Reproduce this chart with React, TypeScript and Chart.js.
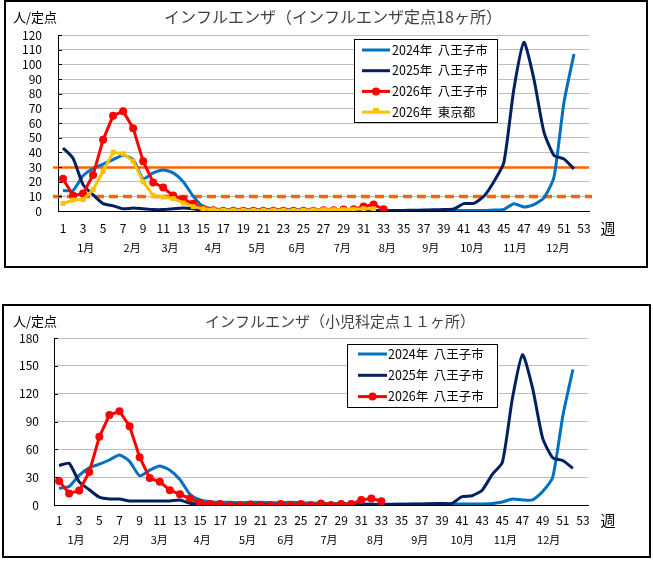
import { useEffect, useRef } from "react";
import { Chart, registerables } from "chart.js";

Chart.register(...registerables);

const FONT = '"Noto Sans CJK JP", "Noto Sans", sans-serif';

// 週番号（1〜53）と月ラベル
const weeks = Array.from({ length: 53 }, (_, i) => String(i + 1));
const months = ["1月", "2月", "3月", "4月", "5月", "6月", "7月", "8月", "9月", "10月", "11月", "12月"];
const monthWeeksTeiten = [3.27, 7.9, 11.68, 16.0, 20.36, 24.35, 28.87, 33.36, 37.7, 41.8, 46.1, 50.4];
const monthWeeksShoni = [2.68, 7.2, 10.95, 15.2, 19.7, 23.5, 27.8, 32.4, 36.8, 41.0, 45.3, 49.6];

// インフルエンザ定点18ヶ所（人/定点）
const teiten2024 = [
  14, 14, 24, 29, 32, 35, 38, 35, 22, 26, 28, 26, 20, 10, 3, 1.5, 1, 1, 1, 1,
  1, 1, 1, 1, 1, 1, 1, 0.8, 0.6, 0.5, 0.5, 0.3, 0.3, 0.2, 0.2, 0.2, 0.2, 0.3, 0.3, 0.4,
  0.4, 0.3, 0.3, 0.6, 1, 5, 2.7, 4.3, 9, 23, 74, 107,
];
const teiten2025 = [
  43, 36, 18, 11, 5, 3.5, 1.5, 2, 1.5, 1, 1, 1.5, 2, 1.5, 0.5, 0.3, 0.2, 0.2, 0.2, 0.2,
  0.2, 0.2, 0.2, 0.2, 0.2, 0.2, 0.2, 0.2, 0.2, 0.2, 0.2, 0.2, 0.2, 0.3, 0.4, 0.5, 0.6, 0.8, 1, 1.4,
  5, 5.2, 10, 20, 33, 83, 115, 90, 54, 38, 35.5, 28.7,
];
const teiten2026 = [
  22, 10.5, 12, 24.5, 48.5, 65, 68, 56.5, 34, 19.5, 16, 10.5, 8, 5, 1.5, 0.5, 0.2, 0.1, 0.1, 0.1,
  0.1, 0.1, 0.1, 0.1, 0.2, 0.2, 0.5, 0.5, 1, 1.2, 3, 4.5, 1.2,
];
const tokyo2026 = [
  5.2, 7.5, 7.8, 14.5, 27, 40, 39, 34, 20, 10.5, 9.5, 8.5, 5.5, 3, 1.5, 0.8, 0.6, 0.5, 0.5, 0.5,
  0.5, 0.5, 0.5, 0.5, 0.6, 0.7, 0.8, 0.9, 1, 1.2, 1.5, 1.5,
];

// 小児科定点11ヶ所（人/定点）
const shoni2024 = [
  18, 20, 32, 40, 44, 48.5, 54, 47, 31.5, 37.5, 42, 37.5, 27.5, 11.5, 5.5, 3.5, 3, 3, 2.5, 3,
  3, 2.5, 2.5, 3, 2.5, 2, 2, 1.5, 1.5, 1, 1, 1, 0.8, 0.8, 0.8, 0.8, 0.8, 1, 1, 1,
  1, 1, 1, 1.5, 3.2, 6.5, 5.4, 5.4, 14.5, 30, 96, 146,
];
const shoni2025 = [
  42.5, 45, 25, 16.5, 8.5, 6.5, 6.5, 4.3, 4.3, 4.3, 4.3, 4.3, 5.4, 1.8, 1, 0.8, 0.6, 0.5, 0.5, 0.5,
  0.5, 0.5, 0.5, 0.5, 0.5, 0.5, 0.5, 0.5, 0.5, 0.5, 0.5, 0.5, 0.5, 0.6, 0.8, 1, 1.2, 1.4, 1.6, 1.8,
  9, 10, 16, 33, 46, 115, 162, 126, 72, 51, 48, 39.5,
];
const shoni2026 = [
  26, 12.5, 15.5, 35.5, 73.5, 97, 101, 85, 51.5, 29, 25, 16, 11.5, 7, 2.5, 1.2, 1.2, 0, 0, 0.5,
  0, 0, 1, 0, 1, 0, 1.5, 0, 1, 1, 5.5, 7, 4,
];

// 注意報・警報レベル
const warningLevel = 30;
const advisoryLevel = 10;

const C2024 = "#0070C0";
const C2025 = "#002060";
const C2026 = "#FF0000";
const CTOKYO = "#FFC000";
const CLEVEL = "#FF6600";

interface SeriesDef {
  label: string;
  data: number[];
  color: string;
  marker?: "circle" | "rect";
  smooth?: boolean;
}

interface PanelProps {
  left: number;
  top: number;
  width: number;
  height: number;
  title: string;
  titleX: number;
  titleSize: number;
  yMax: number;
  yStep: number;
  series: SeriesDef[];
  levels: { value: number; dash: number[]; width: number; extend: number }[];
  monthWeeks: number[];
  area: { left: number; top: number; right: number; bottom: number };
  yPad: number;
  xPad: number;
  monthPad: number;
  unitX: number;
  weekX: number;
  weekY: number;
  legend: { x: number; y: number; w: number; h: number; row: number; first: number; lineFrom: number; lineTo: number; textX: number };
}

function ChartPanel(p: PanelProps) {
  const canvasRef = useRef<HTMLCanvasElement>(null);

  useEffect(() => {
    if (!canvasRef.current) return;
    const ctx = canvasRef.current.getContext("2d");
    if (!ctx) return;

    const mainH = 26;

    const decor = {
      id: "decor",
      beforeDatasetsDraw(chart: Chart) {
        const { ctx, chartArea } = chart;
        const y = chart.scales.y;
        p.levels.forEach((l) => {
          const py = Math.round(y.getPixelForValue(l.value)) + 0.5;
          ctx.save();
          ctx.strokeStyle = CLEVEL;
          ctx.lineWidth = l.width;
          ctx.setLineDash(l.dash);
          ctx.beginPath();
          ctx.moveTo(chartArea.left - 5, py);
          ctx.lineTo(chartArea.right + l.extend, py);
          ctx.stroke();
          ctx.restore();
        });
      },
      afterDraw(chart: Chart) {
        const { ctx, chartArea } = chart;
        const y = chart.scales.y;
        ctx.save();
        // inner tick marks
        ctx.strokeStyle = "#000";
        ctx.lineWidth = 1;
        y.ticks.forEach((_, i) => {
          const py = Math.round(y.getPixelForTick(i)) + 0.5;
          ctx.beginPath();
          ctx.moveTo(chartArea.left, py);
          ctx.lineTo(chartArea.left + 4, py);
          ctx.stroke();
        });

        // texts
        ctx.textBaseline = "middle";
        ctx.fillStyle = "#000";
        ctx.font = `13px ${FONT}`;
        ctx.textAlign = "left";
        ctx.fillText("人/定点", p.unitX, 16);
        ctx.fillStyle = "#404040";
        ctx.font = `${p.titleSize}px ${FONT}`;
        ctx.textAlign = "center";
        ctx.fillText(p.title, p.titleX, 16);
        ctx.fillStyle = "#000";
        ctx.font = `15px ${FONT}`;
        ctx.fillText("週", p.weekX, p.weekY);

        // legend
        const lg = p.legend;
        ctx.fillStyle = "#fff";
        ctx.fillRect(lg.x, lg.y, lg.w, lg.h);
        ctx.strokeStyle = "#000";
        ctx.lineWidth = 1;
        ctx.strokeRect(lg.x + 0.5, lg.y + 0.5, lg.w, lg.h);
        ctx.font = `12.5px ${FONT}`;
        ctx.textAlign = "left";
        p.series.forEach((s, i) => {
          const ry = lg.y + lg.first + i * lg.row;
          ctx.strokeStyle = s.color;
          ctx.lineWidth = 3;
          ctx.beginPath();
          ctx.moveTo(lg.x + lg.lineFrom, ry);
          ctx.lineTo(lg.x + lg.lineTo, ry);
          ctx.stroke();
          const cx = lg.x + (lg.lineFrom + lg.lineTo) / 2;
          ctx.fillStyle = s.color;
          if (s.marker === "circle") {
            ctx.beginPath();
            ctx.arc(cx, ry, 4, 0, Math.PI * 2);
            ctx.fill();
          } else if (s.marker === "rect") {
            ctx.fillRect(cx - 3, ry - 4, 6, 5);
          }
          ctx.fillStyle = "#000";
          ctx.fillText(s.label, lg.x + lg.textX, ry);
        });
        ctx.restore();
      },
    };

    const chart = new Chart(ctx, {
      type: "line",
      data: {
        labels: weeks,
        datasets: p.series.map((s, i) => ({
          label: s.label,
          data: s.data,
          borderColor: s.color,
          backgroundColor: s.color,
          borderWidth: 3,
          pointRadius: s.marker === "circle" ? 4 : s.marker === "rect" ? 3.5 : 0,
          pointStyle: s.marker === "rect" ? "rect" : "circle",
          pointBorderWidth: 0,
          pointHoverRadius: 0,
          tension: s.smooth ? 0.2 : 0,
          order: p.series.length - i,
          xAxisID: "x",
          yAxisID: "y",
        })),
      },
      options: {
        animation: false,
        responsive: true,
        maintainAspectRatio: false,
        layout: {
          padding: { left: 0, top: p.area.top, right: p.width - p.area.right, bottom: 0 },
        },
        plugins: { legend: { display: false }, tooltip: { enabled: false } },
        scales: {
          x: {
            type: "category",
            position: "bottom",
            weight: 0,
            offset: true,
            grid: { display: false, drawTicks: false },
            border: { display: true, color: "#000", width: 1 },
            ticks: {
              autoSkip: false,
              maxRotation: 0,
              minRotation: 0,
              padding: p.xPad,
              color: "#000",
              font: { family: FONT, size: 12 },
              callback: (_v: any, i: number) => (i % 2 === 0 ? weeks[i] : ""),
            },
            afterFit: (s: any) => {
              s.height = mainH;
            },
          },
          month: {
            type: "linear",
            position: "bottom",
            weight: 1,
            min: 0.5,
            max: 53.5,
            grid: { display: false, drawTicks: false },
            border: { display: false },
            ticks: {
              autoSkip: false,
              maxRotation: 0,
              minRotation: 0,
              padding: p.monthPad,
              color: "#000",
              font: { family: FONT, size: 11 },
              callback: (_v: any, i: number) => months[i],
            },
            afterBuildTicks: (s: any) => {
              s.ticks = p.monthWeeks.map((v) => ({ value: v }));
            },
            afterFit: (s: any) => {
              s.height = p.height - p.area.bottom - mainH;
            },
          },
          y: {
            type: "linear",
            min: 0,
            max: p.yMax,
            grid: {
              drawTicks: false,
              color: (c: any) => (c.tick && c.tick.value === 0 ? "rgba(0,0,0,0)" : "#BFBFBF"),
              lineWidth: 1,
            },
            border: { display: true, color: "#000", width: 1 },
            ticks: {
              stepSize: p.yStep,
              autoSkip: false,
              padding: p.yPad,
              color: "#000",
              font: { family: FONT, size: 12 },
            },
            afterFit: (s: any) => {
              s.width = p.area.left;
            },
          },
        },
      },
      plugins: [decor],
    } as any);

    return () => {
      chart.destroy();
    };
  }, []);

  return (
    <div
      style={{
        position: "absolute",
        left: p.left,
        top: p.top,
        width: p.width,
        height: p.height,
      }}
    >
      <canvas ref={canvasRef} />
    </div>
  );
}

const seriesTeiten: SeriesDef[] = [
  { label: "2024年  八王子市", data: teiten2024, color: C2024, smooth: true },
  { label: "2025年  八王子市", data: teiten2025, color: C2025, smooth: true },
  { label: "2026年  八王子市", data: teiten2026, color: C2026, marker: "circle" },
  { label: "2026年  東京都", data: tokyo2026, color: CTOKYO, marker: "rect" },
];

const seriesShoni: SeriesDef[] = [
  { label: "2024年  八王子市", data: shoni2024, color: C2024, smooth: true },
  { label: "2025年  八王子市", data: shoni2025, color: C2025, smooth: true },
  { label: "2026年  八王子市", data: shoni2026, color: C2026, marker: "circle" },
];

export default function App() {
  return (
    <div style={{ position: "absolute", left: 0, top: 0, width: 653, height: 561, background: "#fff" }}>
      <div style={{ position: "absolute", left: 4, top: 0, width: 644, height: 268, border: "2px solid #000", boxSizing: "border-box" }} />
      <div style={{ position: "absolute", left: 2, top: 304, width: 649, height: 254, border: "2px solid #000", boxSizing: "border-box" }} />
      <ChartPanel
        left={5}
        top={1}
        width={642}
        height={266}
        title="インフルエンザ（インフルエンザ定点18ヶ所）"
        titleX={328}
        titleSize={16}
        yMax={120}
        yStep={10}
        series={seriesTeiten}
        levels={[
          { value: warningLevel, dash: [], width: 2.5, extend: 0 },
          { value: advisoryLevel, dash: [9, 5], width: 3.5, extend: 3 },
        ]}
        monthWeeks={monthWeeksTeiten}
        area={{ left: 53, top: 34, right: 584, bottom: 210 }}
        yPad={16}
        xPad={10}
        monthPad={4}
        unitX={8}
        weekX={603}
        weekY={227}
        legend={{ x: 349, y: 38, w: 143, h: 83, row: 20.7, first: 11, lineFrom: 8, lineTo: 36, textX: 38 }}
      />
      <ChartPanel
        left={3}
        top={305}
        width={647}
        height={252}
        title="インフルエンザ（小児科定点１１ヶ所）"
        titleX={337}
        titleSize={15}
        yMax={180}
        yStep={30}
        series={seriesShoni}
        levels={[]}
        monthWeeks={monthWeeksShoni}
        area={{ left: 51, top: 33, right: 585, bottom: 200 }}
        yPad={15}
        xPad={8}
        monthPad={2}
        unitX={10}
        weekX={605}
        weekY={215}
        legend={{ x: 344, y: 39, w: 150, h: 63, row: 21.3, first: 10, lineFrom: 11, lineTo: 40, textX: 41 }}
      />
    </div>
  );
}
